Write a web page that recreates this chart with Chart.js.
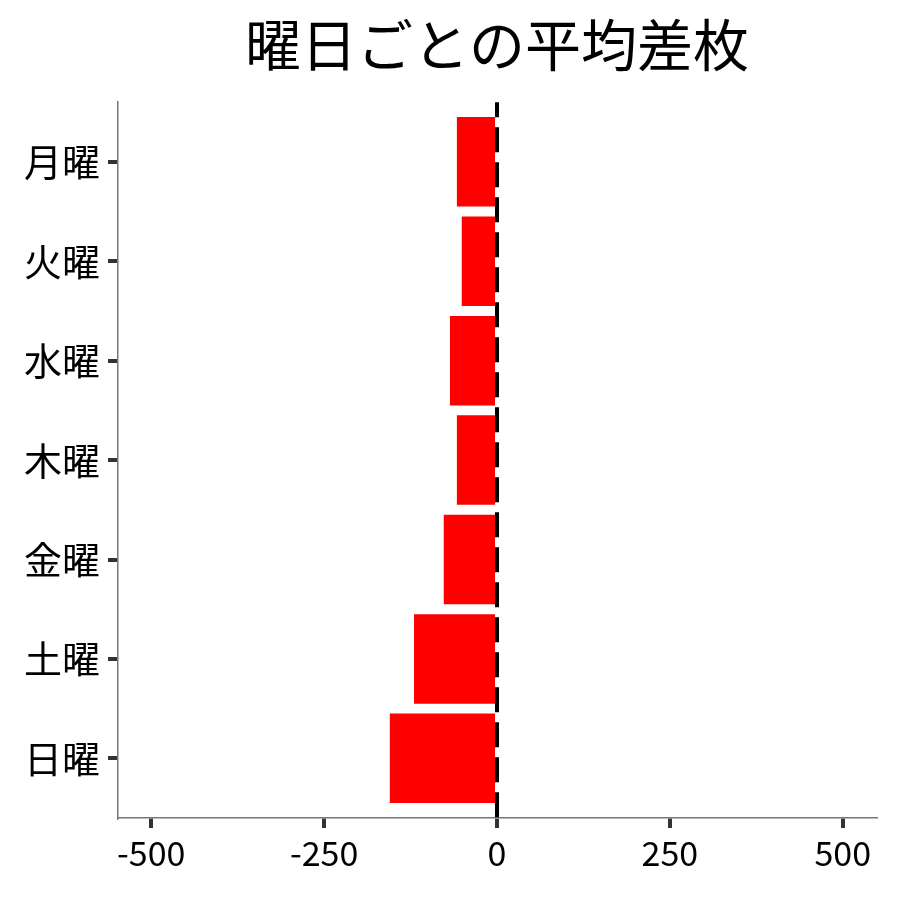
<!DOCTYPE html>
<html>
<head>
<meta charset="utf-8">
<script src="https://cdn.jsdelivr.net/npm/chart.js@4.4.1/dist/chart.umd.min.js"></script>
<style>
  body { margin: 0; background: #fff; }
  #wrap { width: 900px; height: 900px; }
</style>
</head>
<body>
<div id="wrap"><canvas id="chart" width="900" height="900"></canvas></div>
<script>
// data
const days = ['月曜', '火曜', '水曜', '木曜', '金曜', '土曜', '日曜'];
const avgDiff = [-58, -51, -68, -58, -77, -120, -155];
const xTicks = [-500, -250, 0, 250, 500];

const points = []
for (let i = 0; i < days.length; i++) {
    points.push({ x: avgDiff[i], y: i })
}

const FONT = "'Noto Sans CJK JP', 'Noto Sans', sans-serif";

// vertical dashed line at zero
const zeroLine = {
    id: 'zeroLine',
    afterDatasetsDraw(chart) {
        const ctx = chart.ctx;
        const x = chart.scales.x.getPixelForValue(0);
        const area = chart.chartArea;
        ctx.save();
        ctx.strokeStyle = '#000';
        ctx.lineWidth = 4;
        ctx.setLineDash([25, 10]);
        ctx.lineDashOffset = 10;
        ctx.beginPath();
        ctx.moveTo(x, area.top);
        ctx.lineTo(x, area.bottom);
        ctx.stroke();
        ctx.restore();
    }
};

new Chart(document.getElementById('chart').getContext('2d'), {
    type: 'bar',
    data: {
        datasets: [{
            data: points,
            backgroundColor: '#ff0000',
            borderWidth: 0,
            categoryPercentage: 0.9,
            barPercentage: 1.0
        }]
    },
    options: {
        responsive: false,
        animation: false,
        indexAxis: 'y',
        layout: { padding: { left: 0, right: 24, top: 0, bottom: 0 } },
        plugins: {
            legend: { display: false },
            tooltip: { enabled: false },
            title: {
                display: true,
                text: '曜日ごとの平均差枚',
                fullSize: false,
                color: '#000',
                font: { family: FONT, size: 56, weight: 'normal' },
                padding: { top: 11, bottom: 24 }
            }
        },
        scales: {
            x: {
                type: 'linear',
                min: -548,
                max: 548,
                afterBuildTicks(scale) {
                    scale.ticks = xTicks.map(v => ({ value: v }))
                },
                afterFit(scale) { scale.height = 82 },
                grid: {
                    drawOnChartArea: false,
                    drawTicks: true,
                    lineWidth: 4,
                    tickLength: 10,
                    tickWidth: 4,
                    tickColor: '#333'
                },
                border: { color: '#777', width: 1.5 },
                ticks: {
                    color: '#000',
                    padding: 5,
                    maxRotation: 0,
                    font: { family: FONT, size: 34 }
                }
            },
            y: {
                type: 'linear',
                reverse: true,
                offset: false,
                min: -0.6,
                max: 6.6,
                afterBuildTicks(scale) {
                    scale.ticks = days.map((d, i) => ({ value: i }))
                },
                afterFit(scale) { scale.width = 118 },
                grid: {
                    offset: false,
                    drawOnChartArea: false,
                    drawTicks: true,
                    lineWidth: 4,
                    tickLength: 10,
                    tickWidth: 4,
                    tickColor: '#333'
                },
                border: { color: '#777', width: 1.5 },
                ticks: {
                    color: '#000',
                    padding: 8,
                    font: { family: FONT, size: 38 },
                    callback: (v) => days[v]
                }
            }
        }
    },
    plugins: [zeroLine]
});
</script>
</body>
</html>
